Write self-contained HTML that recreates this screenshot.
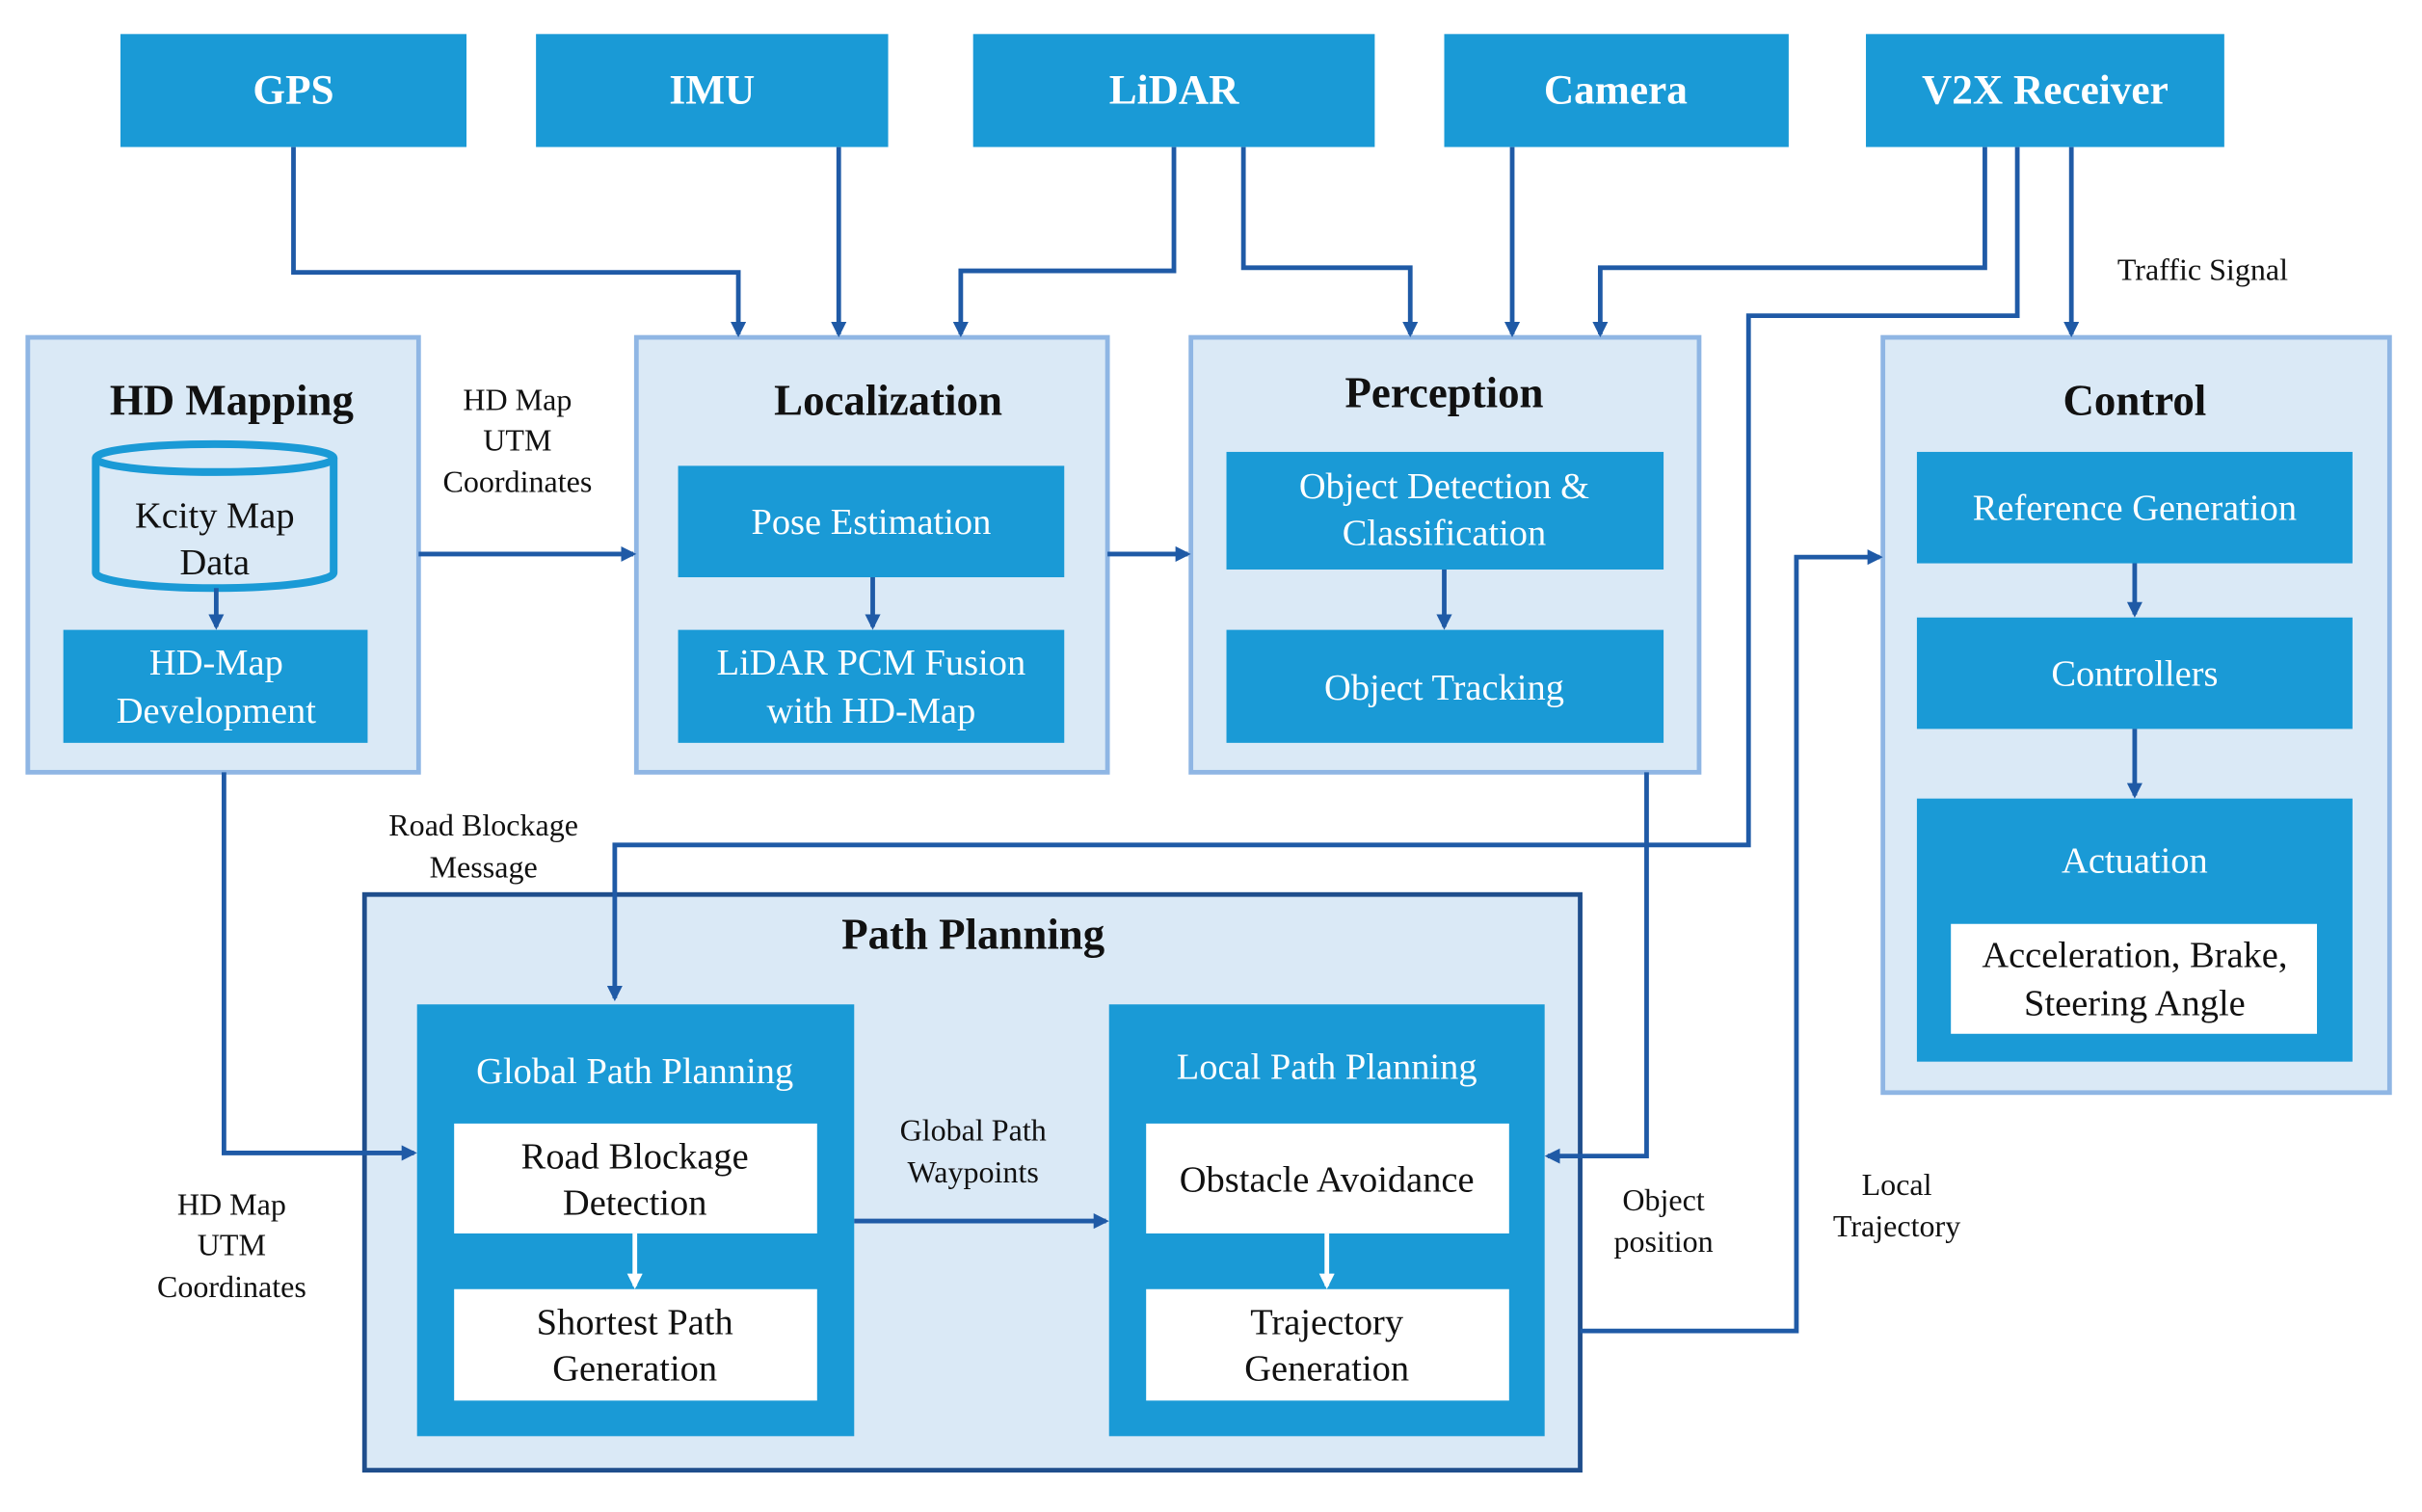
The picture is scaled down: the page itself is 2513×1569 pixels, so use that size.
<!DOCTYPE html>
<html><head><meta charset="utf-8"><style>
html,body{margin:0;padding:0;background:#fff;width:2513px;height:1569px;overflow:hidden}
svg{display:block}
text{font-family:"Liberation Serif",serif}
</style></head><body>
<svg width="2513" height="1569" viewBox="0 0 1568 977" preserveAspectRatio="none" xmlns="http://www.w3.org/2000/svg">
<defs>
<marker id="a" markerWidth="10" markerHeight="10" refX="8" refY="5" orient="auto" markerUnits="userSpaceOnUse"><path d="M0,0 L10,5 L0,10 z" fill="#1f5aa6"/></marker>
<marker id="w" markerWidth="10" markerHeight="10" refX="8" refY="5" orient="auto" markerUnits="userSpaceOnUse"><path d="M0,0 L10,5 L0,10 z" fill="#fff"/></marker>
</defs>
<g fill="#1a9ad6">
<rect x="78" y="22" width="224" height="73"/><rect x="347" y="22" width="228" height="73"/><rect x="630" y="22" width="260" height="73"/><rect x="935" y="22" width="223" height="73"/><rect x="1208" y="22" width="232" height="73"/>
</g>
<g fill="#fff" font-size="27" font-weight="bold" text-anchor="middle">
<text x="190" y="67">GPS</text><text x="461" y="67">IMU</text><text x="760" y="67">LiDAR</text><text x="1046" y="67">Camera</text><text x="1324" y="67">V2X Receiver</text>
</g>
<g fill="#dae9f6" stroke="#8fb6e4" stroke-width="3">
<rect x="18" y="218" width="253" height="281"/><rect x="412" y="218" width="305" height="281"/><rect x="771" y="218" width="329" height="281"/><rect x="1219" y="218" width="328" height="488"/>
</g>
<rect x="236" y="578" width="787" height="372" fill="#dae9f6" stroke="#1f4e8c" stroke-width="3"/>
<g font-size="28" font-weight="bold" text-anchor="middle" fill="#111">
<text x="150" y="268">HD Mapping</text><text x="575" y="268">Localization</text><text x="935" y="263">Perception</text><text x="1382" y="268">Control</text><text x="630" y="613">Path Planning</text>
</g>
<!-- cylinder -->
<path d="M62,296 L62,370 A77,10 0 0 0 216,370 L216,296" fill="#dae9f6" stroke="#1a9ad6" stroke-width="5"/>
<ellipse cx="139" cy="296" rx="77" ry="9" fill="#dae9f6" stroke="#1a9ad6" stroke-width="5"/>
<g fill="#1a9ad6">
<rect x="41" y="407" width="197" height="73"/><rect x="439" y="301" width="250" height="72"/><rect x="439" y="407" width="250" height="73"/>
<rect x="794" y="292" width="283" height="76"/><rect x="794" y="407" width="283" height="73"/>
<rect x="1241" y="292" width="282" height="72"/><rect x="1241" y="399" width="282" height="72"/><rect x="1241" y="516" width="282" height="170"/>
<rect x="270" y="649" width="283" height="279"/><rect x="718" y="649" width="282" height="279"/>
</g>
<g fill="#fff">
<rect x="1263" y="597" width="237" height="71"/>
<rect x="294" y="726" width="235" height="71"/><rect x="294" y="833" width="235" height="72"/>
<rect x="742" y="726" width="235" height="71"/><rect x="742" y="833" width="235" height="72"/>
</g>
<g font-size="24" text-anchor="middle" fill="#fff">
<text x="140" y="436">HD-Map</text><text x="140" y="467">Development</text>
<text x="564" y="345">Pose Estimation</text>
<text x="564" y="436">LiDAR PCM Fusion</text><text x="564" y="467">with HD-Map</text>
<text x="935" y="322">Object Detection &amp;</text><text x="935" y="352">Classification</text>
<text x="935" y="452">Object Tracking</text>
<text x="1382" y="336">Reference Generation</text><text x="1382" y="443">Controllers</text><text x="1382" y="564">Actuation</text>
<text x="411" y="700">Global Path Planning</text><text x="859" y="697">Local Path Planning</text>
</g>
<g font-size="24" text-anchor="middle" fill="#111">
<text x="139" y="341">Kcity Map</text><text x="139" y="371">Data</text>
<text x="1382" y="625">Acceleration, Brake,</text><text x="1382" y="656">Steering Angle</text>
<text x="411" y="755">Road Blockage</text><text x="411" y="785">Detection</text>
<text x="411" y="862">Shortest Path</text><text x="411" y="892">Generation</text>
<text x="859" y="770">Obstacle Avoidance</text>
<text x="859" y="862">Trajectory</text><text x="859" y="892">Generation</text>
</g>
<g font-size="20" text-anchor="middle" fill="#111">
<text x="335" y="265">HD Map</text><text x="335" y="291">UTM</text><text x="335" y="318">Coordinates</text>
<text x="1426" y="181">Traffic Signal</text>
<text x="313" y="540">Road Blockage</text><text x="313" y="567">Message</text>
<text x="150" y="785">HD Map</text><text x="150" y="811">UTM</text><text x="150" y="838">Coordinates</text>
<text x="630" y="737">Global Path</text><text x="630" y="764">Waypoints</text>
<text x="1077" y="782">Object</text><text x="1077" y="809">position</text>
<text x="1228" y="772">Local</text><text x="1228" y="799">Trajectory</text>
</g>
<g fill="none" stroke="#1f5aa6" stroke-width="3" marker-end="url(#a)">
<polyline points="190,95 190,176 478,176 478,216"/>
<polyline points="543,95 543,216"/>
<polyline points="760,95 760,175 622,175 622,216"/>
<polyline points="805,95 805,173 913,173 913,216"/>
<polyline points="979,95 979,216"/>
<polyline points="1285,95 1285,173 1036,173 1036,216"/>
<polyline points="1306,95 1306,204 1132,204 1132,546 398,546 398,645"/>
<polyline points="1341,95 1341,216"/>
<polyline points="271,358 410,358"/>
<polyline points="717,358 769,358"/>
<polyline points="140,380 140,405"/>
<polyline points="565,373 565,405"/>
<polyline points="935,368 935,405"/>
<polyline points="145,499 145,745 268,745"/>
<polyline points="1066,499 1066,747 1002,747"/>
<polyline points="553,789 716,789"/>
<polyline points="1023,860 1163,860 1163,360 1217,360"/>
<polyline points="1382,364 1382,397"/>
<polyline points="1382,471 1382,514"/>
</g>
<g fill="none" stroke="#fff" stroke-width="3" marker-end="url(#w)">
<polyline points="411,797 411,831"/><polyline points="859,797 859,831"/>
</g>
</svg>
</body></html>
